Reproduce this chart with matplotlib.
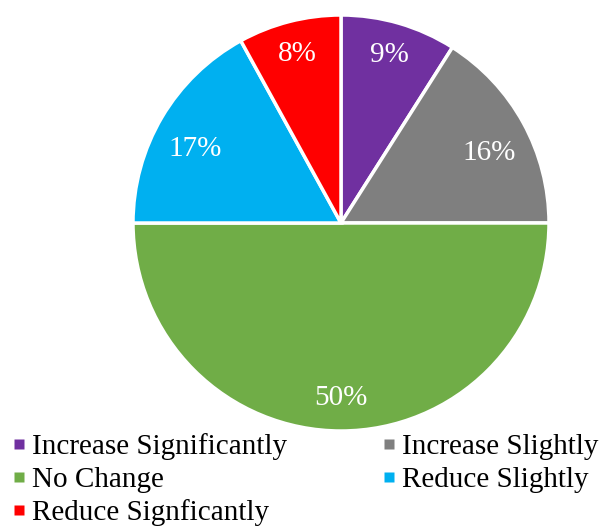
import matplotlib
matplotlib.use("Agg")
import matplotlib.pyplot as plt
from matplotlib.lines import Line2D

# data
categories = ["Increase Significantly", "Increase Slightly", "No Change",
              "Reduce Slightly", "Reduce Signficantly"]
shares = [9, 16, 50, 17, 8]
colors = ["#7030A0", "#7F7F7F", "#70AD47", "#00B0F0", "#FF0000"]

plt.rcParams['font.family'] = ['Liberation Serif', 'DejaVu Serif']

fig = plt.figure(figsize=(6.13, 5.26), dpi=100)
ax = fig.add_axes([133 / 613, 95 / 526, 416 / 613, 416 / 526])

wedges, texts, autotexts = ax.pie(
    shares, colors=colors, startangle=90, counterclock=False,
    autopct=lambda p: f"{p:.0f}%", pctdistance=0.84,
    wedgeprops=dict(edgecolor="white", linewidth=2.5),
    textprops=dict(color="white", fontsize=21))
# side labels sit a bit further in, like the excel original
for t, v in zip(autotexts, shares):
    if v in (16, 17):
        x, y = t.get_position()
        t.set_position((x * 0.97, y * 0.83))
ax.set_xlim(-1.0, 1.0)
ax.set_ylim(-1.0, 1.0)
ax.axis("off")

# legend, row-major order like the original
order = [0, 2, 4, 1, 3]
handles = [Line2D([], [], marker="s", linestyle="none", markersize=6.5,
                  markerfacecolor=colors[i], markeredgecolor="none") for i in order]
labels = [categories[i] for i in order]
fig.legend(handles, labels, ncol=2, loc="lower left", bbox_to_anchor=(0.0, -0.023),
           frameon=False, fontsize=21, handlelength=0.5, handletextpad=0.2,
           columnspacing=3.25, labelspacing=0.22, borderaxespad=0)

fig.savefig("out.png", dpi=100)
